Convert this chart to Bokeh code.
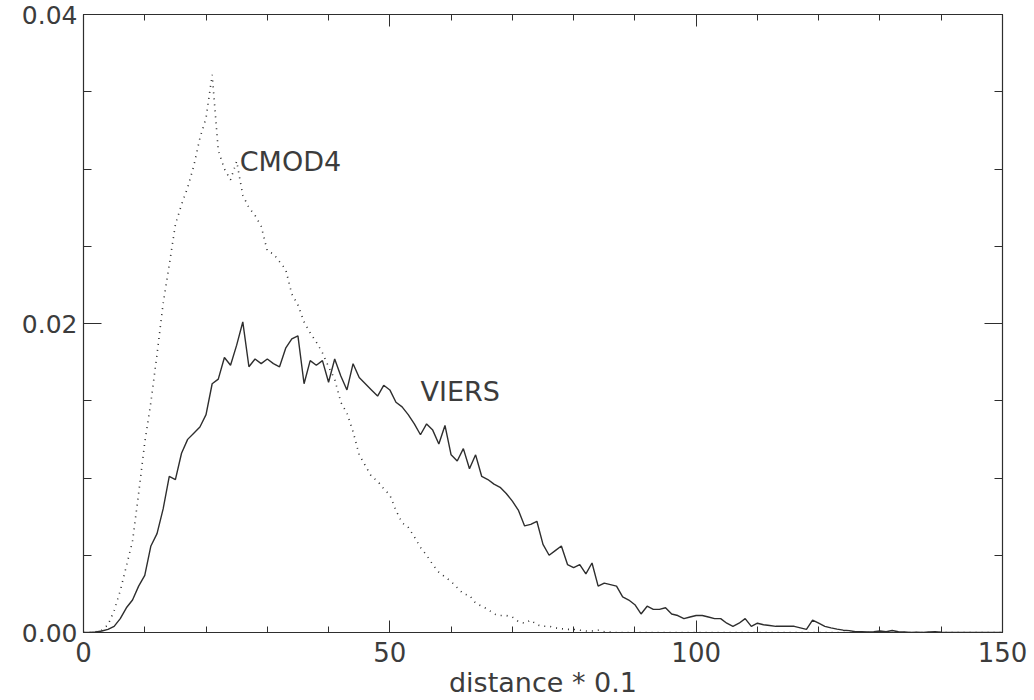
from bokeh.plotting import figure
from bokeh.models import (Range1d, LinearAxis, SingleIntervalTicker, CustomJSTickFormatter,
                          PrintfTickFormatter, Label)
from bokeh.embed import file_html
from bokeh.resources import INLINE

# ---- data ----
distance = list(range(0, 151))

viers = [
    0.0, 0.0, 0.00003, 0.0001, 0.0002, 0.0004, 0.0009, 0.0016, 0.0021, 0.0030,
    0.0037, 0.0056, 0.0064, 0.0080, 0.0101, 0.0099, 0.0116, 0.0125, 0.0129, 0.0133,
    0.0141, 0.0161, 0.0164, 0.0178, 0.0173, 0.0186, 0.0201, 0.0172, 0.0177, 0.0174,
    0.0177, 0.0174, 0.0172, 0.0184, 0.0190, 0.0192, 0.0161, 0.0176, 0.0173, 0.0176,
    0.0162, 0.0177, 0.0166, 0.0157, 0.0174, 0.0165, 0.0161, 0.0157, 0.0153, 0.0160,
    0.0157, 0.0149, 0.0146, 0.0141, 0.0135, 0.0128, 0.0135, 0.0131, 0.0122, 0.0134,
    0.0115, 0.0111, 0.0119, 0.0106, 0.0115, 0.0101, 0.0099, 0.0096, 0.0094, 0.0090,
    0.0085, 0.0079, 0.0069, 0.0070, 0.0072, 0.0057, 0.0050, 0.0053, 0.0056, 0.0044,
    0.0042, 0.0044, 0.0038, 0.0045, 0.0030, 0.0032, 0.0031, 0.0030, 0.0023, 0.0021,
    0.0018, 0.0012, 0.0017, 0.0015, 0.0015, 0.0016, 0.0012, 0.0011, 0.0009, 0.0010,
    0.0011, 0.0011, 0.0010, 0.0009, 0.0009, 0.0006, 0.0004, 0.0006, 0.0009, 0.0004,
    0.0006, 0.0005, 0.00045, 0.0004, 0.0004, 0.0004, 0.0004, 0.0003, 0.0002, 0.0008,
    0.0006, 0.0004, 0.0003, 0.00022, 0.00015, 0.00012, 0.00005, 0.00005, 0.00003, 0.00005,
    0.0001, 0.00005, 0.00013, 0.00005, 0.00003, 0.0, 0.00002, 0.0, 0.00003, 0.00005,
    0.00002, 0.0, 0.0, 0.0, 0.0, 0.0, 0.0, 0.0, 0.0, 0.0,
    0.0,
]

cmod4 = [
    0.0, 0.0, 0.00005, 0.00015, 0.0005, 0.0014, 0.0027, 0.0043, 0.0059, 0.0090,
    0.0123, 0.0149, 0.0180, 0.0213, 0.0238, 0.0264, 0.0277, 0.0288, 0.0302, 0.0320,
    0.0333, 0.0361, 0.0312, 0.0300, 0.0293, 0.0305, 0.0283, 0.0275, 0.0270, 0.0263,
    0.0247, 0.0245, 0.0240, 0.0235, 0.0219, 0.0212, 0.0201, 0.0194, 0.0188, 0.0181,
    0.0172, 0.0164, 0.0149, 0.0142, 0.0130, 0.0115, 0.0108, 0.0101, 0.0098, 0.0093,
    0.0089, 0.0079, 0.0071, 0.0068, 0.0062, 0.0055, 0.0050, 0.0044, 0.0039, 0.0036,
    0.0033, 0.0029, 0.0025, 0.0024, 0.0019, 0.0017, 0.0015, 0.0012, 0.0011, 0.0011,
    0.0010, 0.0007, 0.0006, 0.0008, 0.0005, 0.0004, 0.0004, 0.0003, 0.00025, 0.0002,
    0.0002, 0.00015, 0.0001, 0.0001, 0.00015, 0.00005, 0.00003, 0.0, 0.0, 0.0,
    0.0, 0.0, 0.0, 0.0, 0.0, 0.0, 0.0, 0.0, 0.0, 0.0,
    0.0, 0.0, 0.0, 0.0, 0.0, 0.0, 0.0, 0.0, 0.0, 0.0,
    0.0, 0.0, 0.0, 0.0, 0.0, 0.0, 0.0, 0.0, 0.0, 0.0,
    0.0, 0.0, 0.0, 0.0, 0.0, 0.0, 0.0, 0.0, 0.0, 0.0,
    0.0, 0.0, 0.0, 0.0, 0.0, 0.0, 0.0, 0.0, 0.0, 0.0,
    0.0, 0.0, 0.0, 0.0, 0.0, 0.0, 0.0, 0.0, 0.0, 0.0,
    0.0,
]

x_label = "distance * 0.1"
series_labels = [("CMOD4", 25.5, 0.0305), ("VIERS", 55.0, 0.0156)]

FONT = "DejaVu Sans"
INK = "#2e2e2e"
TXT = "#3c3c3c"

p = figure(width=1034, height=700, output_backend="svg", toolbar_location=None,
           x_range=Range1d(0, 150), y_range=Range1d(0, 0.04),
           min_border_left=83, min_border_right=32, min_border_top=14, min_border_bottom=68,
           x_axis_label=x_label)

p.background_fill_color = "white"
p.border_fill_color = "white"
p.outline_line_color = INK
p.outline_line_width = 1.2
p.xgrid.visible = False
p.ygrid.visible = False

p.line(distance, viers, line_color=INK, line_width=1.4)
p.line(distance, cmod4, line_color=INK, line_width=1.6, line_dash="1 5")

for txt, tx, ty in series_labels:
    p.add_layout(Label(x=tx, y=ty, text=txt, text_font=FONT, text_font_size="27px",
                       text_color=TXT, text_baseline="middle", text_align="left"))

xt = SingleIntervalTicker(interval=50, num_minor_ticks=5)
yt = SingleIntervalTicker(interval=0.02, num_minor_ticks=4)
blank = CustomJSTickFormatter(code="return ''")

def style_x(ax, labels=True):
    ax.ticker = xt
    ax.axis_line_color = INK
    ax.major_tick_line_color = INK
    ax.minor_tick_line_color = INK
    ax.major_tick_in = 12
    ax.major_tick_out = 0
    ax.minor_tick_in = 6
    ax.minor_tick_out = 0
    ax.major_label_text_font = FONT
    ax.major_label_text_color = TXT
    ax.major_label_text_font_size = "26px"
    if labels:
        ax.major_label_standoff = 9
    else:
        ax.formatter = blank
        ax.major_label_standoff = 0

def style_y(ax, labels=True):
    ax.ticker = yt
    ax.axis_line_color = INK
    ax.major_tick_line_color = INK
    ax.minor_tick_line_color = INK
    ax.major_tick_in = 18
    ax.major_tick_out = 0
    ax.minor_tick_in = 8
    ax.minor_tick_out = 0
    ax.major_label_text_font = FONT
    ax.major_label_text_color = TXT
    ax.major_label_text_font_size = "25px"
    if labels:
        ax.formatter = PrintfTickFormatter(format="%.2f")
        ax.major_label_standoff = 6
    else:
        ax.formatter = blank
        ax.major_label_standoff = 0

style_x(p.xaxis[0])
style_y(p.yaxis[0])
p.xaxis[0].axis_label_text_font = FONT
p.xaxis[0].axis_label_text_font_size = "27px"
p.xaxis[0].axis_label_text_font_style = "normal"
p.xaxis[0].axis_label_text_color = TXT
p.xaxis[0].axis_label_standoff = 2

top = LinearAxis()
style_x(top, labels=False)
p.add_layout(top, "above")
right = LinearAxis()
style_y(right, labels=False)
p.add_layout(right, "right")

open("out.html", "w").write(file_html(p, INLINE))
